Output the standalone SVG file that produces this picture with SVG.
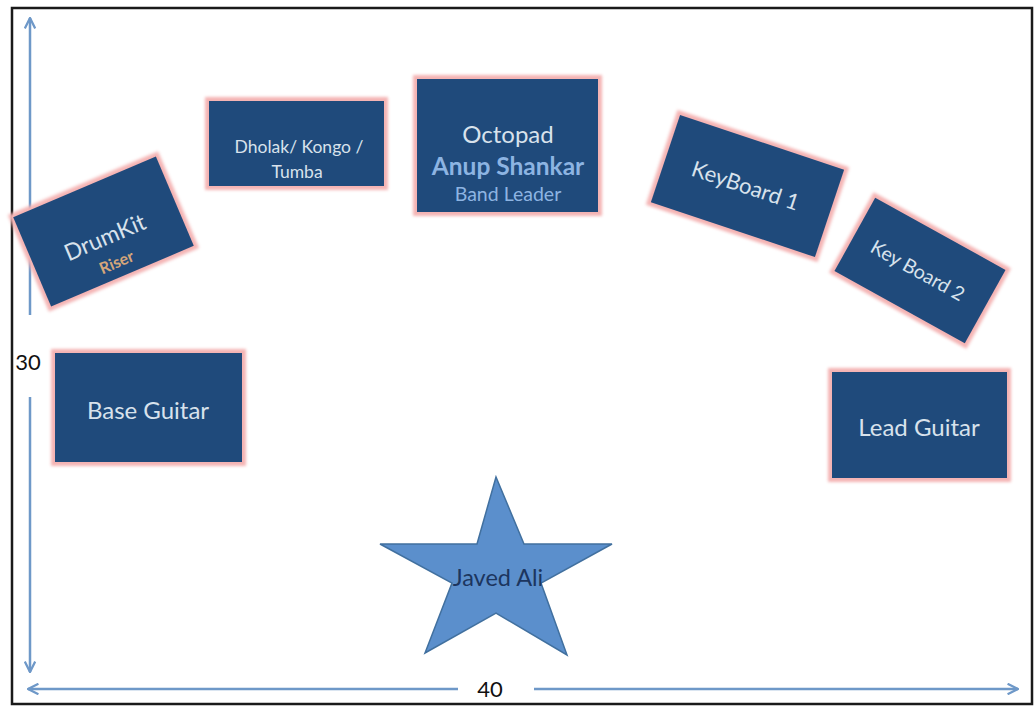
<svg xmlns="http://www.w3.org/2000/svg" width="1035" height="707" viewBox="0 0 1035 707">
  <defs>
    <style>
      .glow { fill: none; stroke: #F4B4B4; stroke-width: 8; filter: url(#soft); }
      .box { fill: #1F4A7B; }
      .lbl { font-family: Lato, "Open Sans", sans-serif; fill: #D8E2EC; text-anchor: middle; }
      .dim { font-family: Lato, "Open Sans", sans-serif; fill: #111; font-size: 22px; text-anchor: middle; }
      .arrow { stroke: #6E98C8; stroke-width: 2.5; fill: none; }
    </style>
    <filter id="soft" x="-20%" y="-20%" width="140%" height="140%">
      <feGaussianBlur stdDeviation="1.6"/>
    </filter>
    <marker id="head" viewBox="0 0 12 12" refX="11" refY="6" markerWidth="5" markerHeight="5" orient="auto-start-reverse" markerUnits="strokeWidth">
      <path d="M1,1 L11,6 L1,11" fill="none" stroke="#6E98C8" stroke-width="2.2"/>
    </marker>
  </defs>

  <rect x="0" y="0" width="1035" height="707" fill="#FFFFFF"/>
  <rect id="frame" x="12" y="8" width="1020" height="696" fill="none" stroke="#1A1A1A" stroke-width="2.5"/>

  <g id="connectors">
    <line class="arrow" x1="30" y1="315" x2="30" y2="18" marker-end="url(#head)"/>
    <line class="arrow" x1="30" y1="397" x2="30" y2="672" marker-end="url(#head)"/>
    <line class="arrow" x1="458" y1="689" x2="28" y2="689" marker-end="url(#head)"/>
    <line class="arrow" x1="534" y1="689" x2="1018" y2="689" marker-end="url(#head)"/>
  </g>

  <text id="dim-30" class="dim" x="28" y="370">30</text>
  <text id="dim-40" class="dim" x="490" y="697">40</text>

  <g id="drumkit" transform="translate(103.5,231.5) rotate(-23)">
    <rect class="glow" x="-77.5" y="-48.5" width="155" height="97"/>
    <rect class="box" x="-77.5" y="-48.5" width="155" height="97"/>
    <text class="lbl" x="-1" y="14" font-size="23">DrumKit</text>
    <text class="lbl" x="0" y="39" font-size="16" font-weight="bold" style="fill:#D6A67A">Riser</text>
  </g>

  <g id="dholak">
    <rect class="glow" x="209" y="101" width="175" height="85"/>
    <rect class="box" x="209" y="101" width="175" height="85"/>
    <text class="lbl" x="299" y="153" font-size="17.5">Dholak/ Kongo /</text>
    <text class="lbl" x="297" y="178" font-size="17.5">Tumba</text>
  </g>

  <g id="octopad">
    <rect class="glow" x="417" y="79" width="181" height="133"/>
    <rect class="box" x="417" y="79" width="181" height="133"/>
    <text class="lbl" x="508" y="143" font-size="24">Octopad</text>
    <text class="lbl" x="508" y="175" font-size="24.5" font-weight="bold" style="fill:#8DB4E2">Anup Shankar</text>
    <text class="lbl" x="508" y="201" font-size="19.5" style="fill:#8DB4E2">Band Leader</text>
  </g>

  <g id="keyboard1" transform="translate(747.5,186) rotate(18.5)">
    <rect class="glow" x="-86.5" y="-46" width="173" height="92"/>
    <rect class="box" x="-86.5" y="-46" width="173" height="92"/>
    <text class="lbl" x="-2" y="8" font-size="22">KeyBoard 1</text>
  </g>

  <g id="keyboard2" transform="translate(920,270.5) rotate(29)">
    <rect class="glow" x="-74.5" y="-42" width="149" height="84"/>
    <rect class="box" x="-74.5" y="-42" width="149" height="84"/>
    <text class="lbl" x="-2" y="8" font-size="19.5">Key Board 2</text>
  </g>

  <g id="base-guitar">
    <rect class="glow" x="55" y="353" width="187" height="109"/>
    <rect class="box" x="55" y="353" width="187" height="109"/>
    <text class="lbl" x="148" y="419" font-size="24">Base Guitar</text>
  </g>

  <g id="lead-guitar">
    <rect class="glow" x="832" y="372" width="175" height="106"/>
    <rect class="box" x="832" y="372" width="175" height="106"/>
    <text class="lbl" x="919" y="436" font-size="24">Lead Guitar</text>
  </g>

  <g id="javed-ali">
    <polygon points="496,477 524,544 612,544 541,583 567,655 496,613 425,653 452,583 380,544 477,544" fill="#5B8FCC" stroke="#41709F" stroke-width="1.5"/>
    <text x="498" y="586" font-family="Lato, 'Open Sans', sans-serif" font-size="23.5" fill="#1C355E" text-anchor="middle">Javed Ali</text>
  </g>
</svg>
